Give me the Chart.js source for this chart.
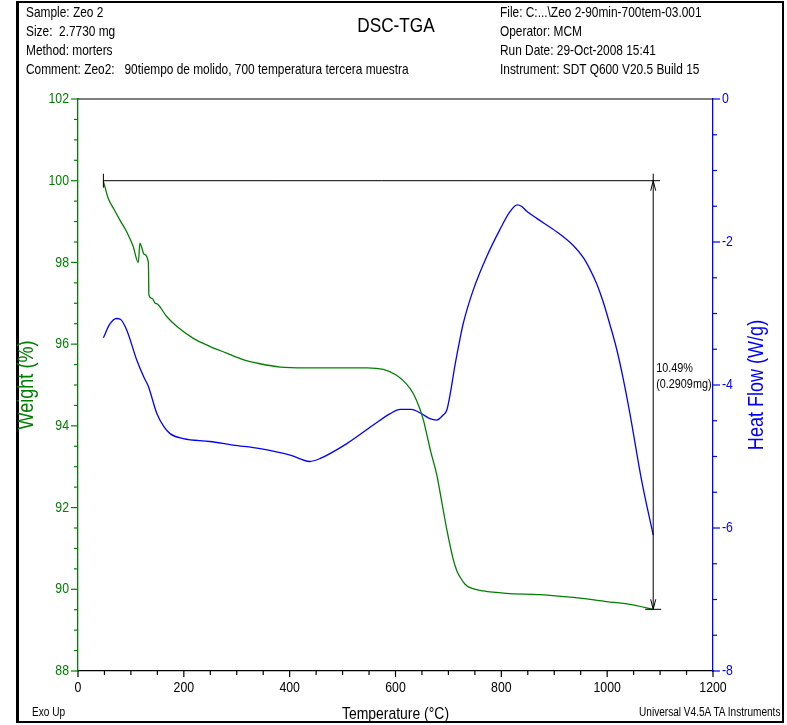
<!DOCTYPE html>
<html lang="en">
<head>
<meta charset="UTF-8">
<title>DSC-TGA - Zeo 2</title>
<script src="https://cdn.jsdelivr.net/npm/chart.js"></script>
<style>
  body { margin: 0; background: #fff; }
  .page {
    position: relative; width: 787px; height: 725px; overflow: hidden;
    font-family: "Liberation Sans", Arial, sans-serif;
    color: #000;
  }
  .frame {
    position: absolute; left: 16px; top: 1px; width: 768px; height: 722px;
    box-sizing: border-box; border: 2px solid #000; border-left-width: 3px;
  }
  #chart { position: absolute; left: 0; top: 0; }
  /* the original print uses a narrow sans, so squeeze regular Arial metrics */
  .info { position: absolute; top: 3px; font-size: 14.5px; line-height: 19px; white-space: pre;
          transform: scaleX(0.82); transform-origin: 0 0; }
  .title { position: absolute; top: 13px; left: 0; width: 792px; text-align: center; font-size: 21px;
           transform: scaleX(0.82); transform-origin: 50% 0; }
  .foot { position: absolute; top: 704px; font-size: 12.3px; line-height: 16px; white-space: nowrap;
          transform: scaleX(0.82); }
</style>
</head>
<body>
<div class="page">
  <div class="frame"></div>
  <canvas id="chart" width="787" height="725"></canvas>
  <div class="info" style="left:26px">Sample: Zeo 2
Size:  2.7730 mg
Method: morters
Comment: Zeo2:   90tiempo de molido, 700 temperatura tercera muestra</div>
  <div class="title">DSC-TGA</div>
  <div class="info" style="left:500px">File: C:...\Zeo 2-90min-700tem-03.001
Operator: MCM
Run Date: 29-Oct-2008 15:41
Instrument: SDT Q600 V20.5 Build 15</div>
  <div class="foot" style="left:32px; transform-origin: 0 0">Exo Up</div>
  <div class="foot" style="right:7px; transform-origin: 100% 0">Universal V4.5A TA Instruments</div>
</div>

<script>
// TGA weight curve
const weightTemp = [48, 52, 57, 68, 79, 92, 104, 114, 117, 125, 133, 134, 140, 146, 150, 168, 187, 218, 250, 281,
  312, 344, 382, 430, 476, 546, 577, 602, 621, 634, 646, 653, 659, 667, 678, 687, 697, 709, 716, 722,
  731, 741, 766, 810, 873, 936, 999, 1043, 1087];
const weightPct = [99.98, 99.8, 99.57, 99.3, 99.04, 98.75, 98.4, 98.0, 98.47, 98.2, 98.0, 97.2, 97.12, 97.0, 96.98, 96.67, 96.43, 96.14, 95.94, 95.78,
  95.62, 95.52, 95.44, 95.42, 95.42, 95.42, 95.38, 95.24, 95.02, 94.78, 94.42, 94.13, 93.8, 93.35, 92.8, 92.17, 91.46, 90.74, 90.45, 90.3,
  90.13, 90.04, 89.96, 89.9, 89.87, 89.8, 89.7, 89.63, 89.51];

// DSC heat flow curve
const heatTemp = [48, 60, 73, 80, 92, 111, 125, 133, 149, 162, 174, 199, 249, 293, 344, 401, 438, 457, 508, 558,
  590, 609, 630, 649, 665, 678, 690, 697, 704, 712, 722, 728, 747, 772, 797, 816, 830, 838, 848, 867,
  905, 936, 955, 968, 980, 993, 1005, 1018, 1030, 1043, 1065, 1087];
const heatFlow = [-3.34, -3.15, -3.07, -3.08, -3.23, -3.65, -3.9, -4.02, -4.4, -4.58, -4.68, -4.75, -4.79, -4.84, -4.89, -4.98, -5.07, -5.03, -4.82, -4.56,
  -4.4, -4.34, -4.34, -4.4, -4.47, -4.49, -4.42, -4.35, -4.1, -3.74, -3.35, -3.14, -2.67, -2.21, -1.83, -1.58, -1.48, -1.5, -1.57, -1.67,
  -1.86, -2.05, -2.22, -2.39, -2.58, -2.85, -3.15, -3.5, -3.9, -4.4, -5.33, -6.1];

// axis ranges and labelled steps
const tempRange = [0, 1200], tempMajor = 200, tempMinor = 50;
const weightRange = [88, 102], weightMajor = 2, weightMinor = 0.5;
const heatRange = [-8, 0], heatMajor = 2, heatMinor = 0.5;
const xTitle = 'Temperature (\u00B0C)';
const wTitle = 'Weight (%)';
const hTitle = 'Heat Flow (W/g)';

// step analysis (weight loss) marker
const stepFromT = 48, stepToT = 1100, stepArrowT = 1087;
const stepTop = 100, stepBottom = 89.51;
const stepLabelAt = 95.2;
const stepLabels = ['10.49%', '(0.2909mg)'];

const GREEN = '#008000', BLUE = '#0000ff';
const FONT = '"Liberation Sans", Arial, sans-serif';
const SQUEEZE = 0.82;

function pts(xs, ys) { return xs.map((x, i) => ({ x: x, y: ys[i] })); }

function seg(ctx, x1, y1, x2, y2) {
  ctx.beginPath(); ctx.moveTo(x1, y1); ctx.lineTo(x2, y2); ctx.stroke();
}

// narrow text: regular face squeezed horizontally
function ntext(ctx, str, x, y, size, color, align, rot) {
  ctx.save();
  ctx.translate(x, y);
  if (rot) ctx.rotate(rot);
  ctx.scale(SQUEEZE, 1);
  ctx.font = size + 'px ' + FONT;
  ctx.fillStyle = color;
  ctx.textAlign = align;
  ctx.textBaseline = 'middle';
  ctx.fillText(str, 0, 0);
  ctx.restore();
}

// tick marks + labels, axis titles, top border and the step marker
const extras = {
  id: 'extras',
  afterDatasetsDraw(chart) {
    const { ctx, chartArea: a, scales } = chart;
    const x = scales.x, yW = scales.yW, yH = scales.yH;
    ctx.save();
    ctx.lineWidth = 1.2;

    ctx.strokeStyle = '#000';
    seg(ctx, a.left, a.top, a.right, a.top);

    x.ticks.forEach(t => {
      const p = x.getPixelForValue(t.value);
      const major = t.value % tempMajor === 0;
      seg(ctx, p, a.bottom, p, a.bottom + (major ? 6 : 4));
      if (major) ntext(ctx, String(t.value), p, a.bottom + 17, 15, '#000', 'center');
    });
    ctx.strokeStyle = GREEN;
    yW.ticks.forEach(t => {
      const p = yW.getPixelForValue(t.value);
      const major = t.value % weightMajor === 0;
      seg(ctx, a.left, p, a.left - (major ? 7 : 4), p);
      if (major) ntext(ctx, String(t.value), a.left - 9, p, 15, GREEN, 'right');
    });
    ctx.strokeStyle = BLUE;
    yH.ticks.forEach(t => {
      const p = yH.getPixelForValue(t.value);
      const major = t.value % heatMajor === 0;
      seg(ctx, a.right, p, a.right + (major ? 7 : 4), p);
      if (major) ntext(ctx, String(t.value), a.right + 9, p, 15, BLUE, 'left');
    });

    const midY = (a.top + a.bottom) / 2;
    ntext(ctx, xTitle, (a.left + a.right) / 2, a.bottom + 43, 17, '#000', 'center');
    ntext(ctx, wTitle, a.left - 51, midY, 22, GREEN, 'center', -Math.PI / 2);
    ntext(ctx, hTitle, a.right + 44, midY, 22, BLUE, 'center', -Math.PI / 2);

    // step marker
    ctx.strokeStyle = '#000';
    ctx.lineWidth = 1;
    const x0 = x.getPixelForValue(stepFromT), x1 = x.getPixelForValue(stepToT);
    const xa = x.getPixelForValue(stepArrowT);
    const yt = yW.getPixelForValue(stepTop), yb = yW.getPixelForValue(stepBottom);
    seg(ctx, x0, yt, x1, yt);
    seg(ctx, x0, yt - 7, x0, yt + 7);
    seg(ctx, xa, yt - 7, xa, yb);
    seg(ctx, xa - 8, yb, xa + 8, yb);
    ctx.beginPath();
    ctx.moveTo(xa - 2.5, yt + 10); ctx.lineTo(xa, yt); ctx.lineTo(xa + 2.5, yt + 10);
    ctx.moveTo(xa - 2.5, yb - 10); ctx.lineTo(xa, yb); ctx.lineTo(xa + 2.5, yb - 10);
    ctx.stroke();

    const ly = yW.getPixelForValue(stepLabelAt);
    ntext(ctx, stepLabels[0], xa + 3, ly - 8, 13.2, '#000', 'left');
    ntext(ctx, stepLabels[1], xa + 3, ly + 8, 13.2, '#000', 'left');
    ctx.restore();
  }
};

new Chart(document.getElementById('chart'), {
  type: 'scatter',
  data: {
    datasets: [{
      label: wTitle,
      data: pts(weightTemp, weightPct),
      yAxisID: 'yW',
      showLine: true,
      borderColor: GREEN,
      borderWidth: 1.3,
      pointRadius: 0,
      cubicInterpolationMode: 'monotone'
    }, {
      label: hTitle,
      data: pts(heatTemp, heatFlow),
      yAxisID: 'yH',
      showLine: true,
      borderColor: BLUE,
      borderWidth: 1.3,
      pointRadius: 0,
      cubicInterpolationMode: 'monotone'
    }]
  },
  options: {
    responsive: false,
    animation: false,
    events: [],
    layout: { padding: { left: 0, right: 0, top: 99, bottom: 0 } },
    plugins: { legend: { display: false }, tooltip: { enabled: false } },
    scales: {
      x: {
        type: 'linear', min: tempRange[0], max: tempRange[1],
        grid: { display: false, drawTicks: false },
        border: { display: true, color: '#000', width: 1.3 },
        ticks: { display: false, stepSize: tempMinor, autoSkip: false },
        afterFit: s => { s.height = 54; }
      },
      yW: {
        type: 'linear', position: 'left', min: weightRange[0], max: weightRange[1],
        grid: { display: false, drawTicks: false },
        border: { display: true, color: GREEN, width: 1.3 },
        ticks: { display: false, stepSize: weightMinor, autoSkip: false },
        afterFit: s => { s.width = 78; }
      },
      yH: {
        type: 'linear', position: 'right', min: heatRange[0], max: heatRange[1],
        grid: { display: false, drawTicks: false },
        border: { display: true, color: BLUE, width: 1.3 },
        ticks: { display: false, stepSize: heatMinor, autoSkip: false },
        afterFit: s => { s.width = 74; }
      }
    }
  },
  plugins: [extras]
});
</script>
</body>
</html>
